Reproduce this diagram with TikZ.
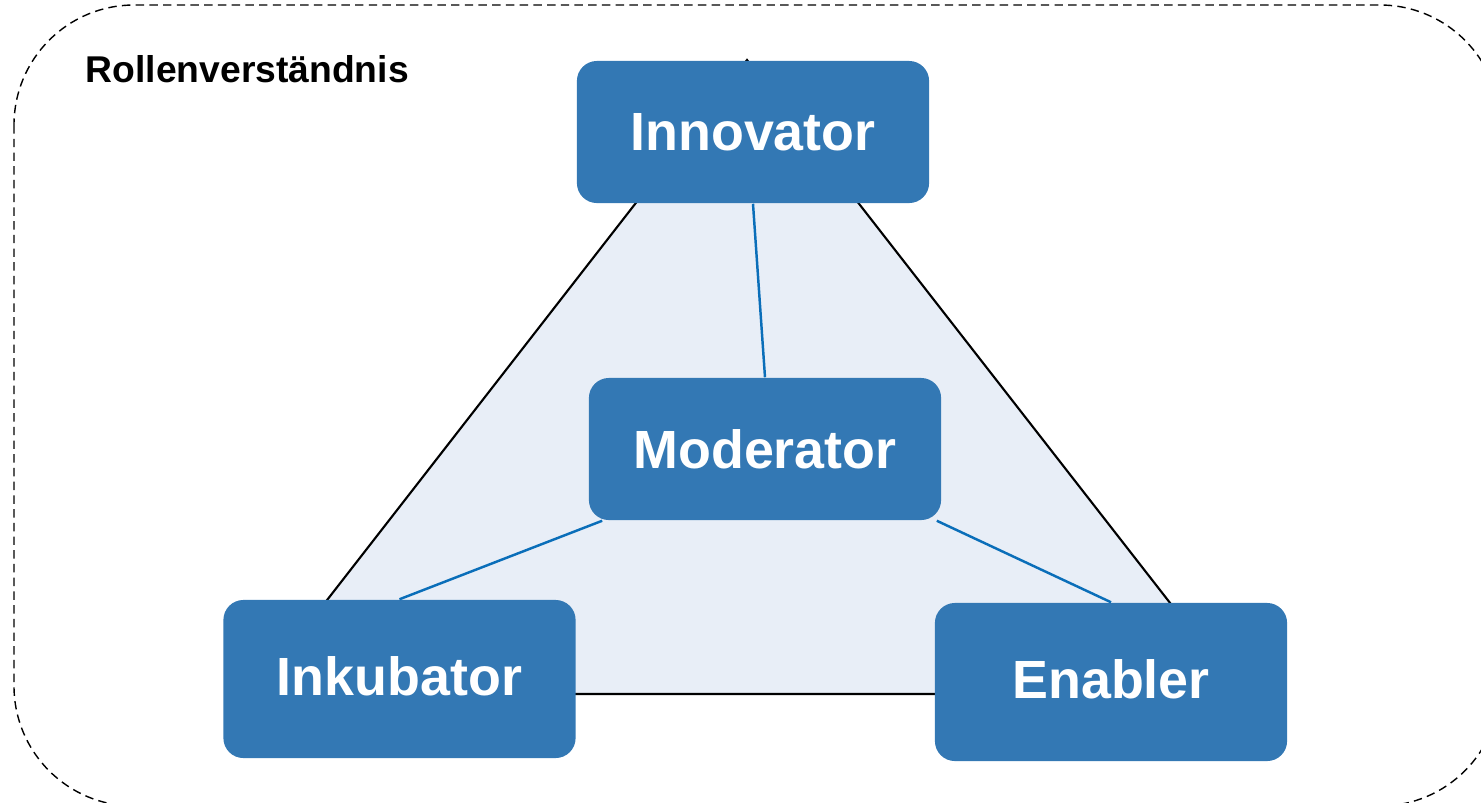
\documentclass[tikz,border=0pt]{standalone}
\usepackage{fontspec}
\setmainfont{Liberation Sans}
\usetikzlibrary{calc}
\definecolor{boxblue}{RGB}{51,120,180}
\definecolor{linkblue}{RGB}{10,110,185}
\definecolor{trifill}{RGB}{232,238,247}
\begin{document}
\begin{tikzpicture}[x=0.01cm,y=-0.01cm,
  role/.style={rectangle, rounded corners=0.2cm, fill=boxblue, text=white,
    font=\fontsize{15.3}{18}\selectfont\bfseries, minimum width=3.52cm,
    minimum height=1.42cm, inner sep=0pt},
  tall/.style={minimum height=1.58cm},
  triline/.style={black, line width=0.6pt},
  link/.style={linkblue, line width=0.7pt},
  frame/.style={dash pattern=on 2.4pt off 1.5pt, line width=0.4pt, rounded corners=1.2cm},
  title/.style={anchor=base west, inner sep=0pt, font=\fontsize{10.6}{13}\selectfont\bfseries}]
\useasboundingbox (0,0) rectangle (1481,802);
\draw[frame] (14,5) rectangle (1500,806);
\node[title] (ttl) at (85,82) {Rollenverständnis};
\coordinate (A) at (747,60);
\coordinate (B) at (254,694);
\coordinate (C) at (1241,694);
\fill[trifill] (A) -- (B) -- (C) -- cycle;
\draw[triline] (A) -- (B) -- (C) -- cycle;
\node[role] (inn) at (753,132) {Innovator};
\node[role] (mod) at (765,449) {Moderator};
\node[role,tall] (ink) at (399.5,679) {\raisebox{0.06cm}{Inkubator}};
\node[role,tall] (ena) at (1111,682) {\raisebox{0.06cm}{Enabler}};
\draw[link] (inn.south) -- (mod.north);
\draw[link] ($(mod.south west)+(14,0)$) -- (ink.north);
\draw[link] ($(mod.south east)+(-5,0)$) -- (ena.north);
\end{tikzpicture}
\end{document}
